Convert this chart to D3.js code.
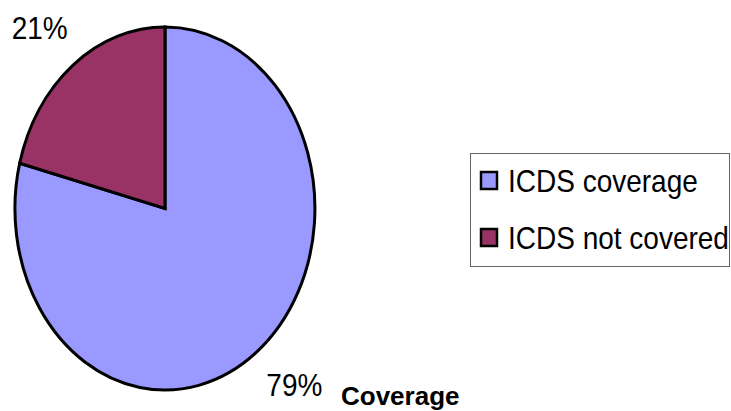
<!DOCTYPE html>
<html>
<head>
<meta charset="utf-8">
<script src="https://cdn.jsdelivr.net/npm/d3@7"></script>
<style>
  body { margin: 0; background: #fff; }
  svg { display: block; font-family: "Liberation Sans", Arial, sans-serif; }
</style>
</head>
<body>
<svg id="chart" width="731" height="411"></svg>
<script>
// data
const categories = ["ICDS coverage", "ICDS not covered"];
const values = [79, 21];
const colors = ["#9999ff", "#993366"];
const title = "Coverage";

const svg = d3.select("#chart");

// pie is stretched into an ellipse
const cx = 165, cy = 208.5, rx = 150, ry = 181.5;

const pie = d3.pie().sort(null).value(d => d.value);
const arcs = pie(categories.map((c, i) => ({ name: c, value: values[i] })));
const arc = d3.arc().innerRadius(0).outerRadius(1);
const color = d3.scaleOrdinal().domain(categories).range(colors);

const g = svg.append("g").attr("transform", `translate(${cx},${cy}) scale(${rx},${ry})`);
g.selectAll("path")
  .data(arcs)
  .enter().append("path")
  .attr("d", arc)
  .attr("fill", d => color(d.data.name))
  .attr("stroke", "#000")
  .attr("stroke-width", 3)
  .attr("stroke-linejoin", "miter")
  .attr("vector-effect", "non-scaling-stroke");

// percent labels outside the slices
const total = d3.sum(values);
svg.selectAll("text.pct")
  .data(arcs)
  .enter().append("text")
  .attr("class", "pct")
  .attr("text-anchor", "middle")
  .attr("dominant-baseline", "central")
  .attr("font-size", 28)
  .attr("fill", "#000")
  .attr("transform", d => {
    const a = (d.startAngle + d.endAngle) / 2;
    const x = cx + 2 + rx * 1.385 * Math.sin(a);
    const y = cy - 2 - ry * 1.245 * Math.cos(a);
    return `translate(${x},${y}) scale(1,1.15)`;
  })
  .text(d => Math.round(d.value / total * 100) + "%");

svg.append("text")
  .attr("x", 341)
  .attr("y", 405)
  .attr("font-size", 26)
  .attr("font-weight", "bold")
  .text(title);

// legend
const legend = svg.append("g").attr("transform", "translate(470,153)");
legend.append("rect")
  .attr("x", 0.5).attr("y", 0.5)
  .attr("width", 259).attr("height", 113)
  .attr("fill", "#fff")
  .attr("stroke", "#666")
  .attr("stroke-width", 1);

const item = legend.selectAll("g.item")
  .data(categories)
  .enter().append("g")
  .attr("class", "item")
  .attr("transform", (d, i) => `translate(0,${27 + i * 57})`);

item.append("rect")
  .attr("x", 11).attr("y", -8)
  .attr("width", 16).attr("height", 17)
  .attr("fill", d => color(d))
  .attr("stroke", "#000")
  .attr("stroke-width", 2.5);

item.append("text")
  .attr("transform", "translate(38,12) scale(1,1.14)")
  .attr("font-size", 28)
  .attr("fill", "#000")
  .text(d => d);
</script>
</body>
</html>
